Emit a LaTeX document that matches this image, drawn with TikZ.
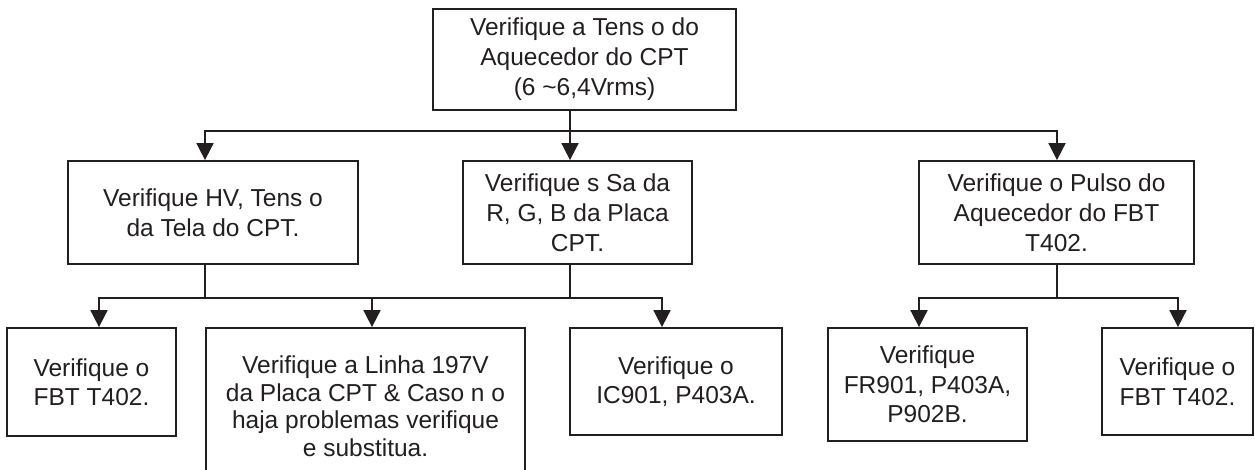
\documentclass[tikz,border=0pt]{standalone}
\usepackage{fontspec}
\setmainfont{Liberation Sans}
\usetikzlibrary{arrows.meta}
\definecolor{ink}{RGB}{35,31,32}
\begin{document}
\begin{tikzpicture}[x=1pt,y=-1pt,
  box/.style={draw=ink, line width=1.8pt, align=center, inner sep=0pt, text=ink,
    font=\fontsize{24.5}{30}\selectfont},
  link/.style={draw=ink, line width=1.8pt},
  arr/.style={link, -{Triangle[length=17pt,width=17pt]}},
]
\fill[white] (0,0) rectangle (1255,469);
\useasboundingbox (0,0) rectangle (1255,469);
\clip (0,0) rectangle (1255,469);

% root
\node[box, minimum width=303pt, minimum height=101pt] (top) at (584.5,59.5)
  {Verifique a Tens o do\\Aquecedor do CPT\\(6 \textasciitilde6,4Vrms)};

% second level
\node[box, minimum width=290pt, minimum height=103pt] (l1) at (213,212.5)
  {Verifique HV, Tens o\\da Tela do CPT.};
\node[box, minimum width=229pt, minimum height=103pt] (m1) at (577.5,212.5)
  {Verifique s Sa da\\R, G, B da Placa\\CPT.};
\node[box, minimum width=275pt, minimum height=103pt] (r1) at (1056.5,212.5)
  {Verifique o Pulso do\\Aquecedor do FBT\\T402.};

% third level
\node[box, minimum width=169pt, minimum height=108pt,
  font=\fontsize{24.5}{29}\selectfont] (b1) at (91.5,382)
  {Verifique o\\FBT T402.};
\node[box, minimum width=319pt, minimum height=156pt,
  font=\fontsize{24.5}{27.5}\selectfont] (b2) at (365.5,406)
  {Verifique a Linha 197V\\da Placa CPT \& Caso n o\\haja problemas verifique\\e substitua.};
\node[box, minimum width=212pt, minimum height=107pt,
  font=\fontsize{24.5}{29}\selectfont] (b3) at (676,381.5)
  {Verifique o\\IC901, P403A.};
\node[box, minimum width=199pt, minimum height=113pt,
  font=\fontsize{24.5}{29.5}\selectfont] (b4) at (927.5,384.5)
  {Verifique\\FR901, P403A,\\P902B.};
\node[box, minimum width=151pt, minimum height=107pt] (b5) at (1177.5,381.5)
  {Verifique o\\FBT T402.};

% junctions of the connector buses
\coordinate (j0) at (570,131);
\coordinate (j1) at (205,298);
\coordinate (j2) at (570,298);
\coordinate (j3) at (1057,298);

% root to second level
\draw[link] ([xshift=-14.5pt]top.south) -- (j0);
\draw[arr] (j0) -| ([xshift=-8pt]l1.north);
\draw[arr] (j0) -- (j0 |- m1.north);
\draw[arr] (j0) -| ([xshift=0.5pt]r1.north);

% left and middle branches to third level
\draw[link] ([xshift=-8pt]l1.south) -- (j1);
\draw[link] ([xshift=-7.5pt]m1.south) -- (j2);
\draw[link] (j1) -- (j2);
\draw[arr] (j1) -| ([xshift=7.5pt]b1.north);
\draw[arr] (j1) -| ([xshift=6.5pt]b2.north);
\draw[arr] (j2) -| ([xshift=-14pt]b3.north);

% right branch to third level
\draw[link] ([xshift=0.5pt]r1.south) -- (j3);
\draw[arr] (j3) -| ([xshift=-8.5pt]b4.north);
\draw[arr] (j3) -| ([xshift=0.5pt]b5.north);
\end{tikzpicture}
\end{document}
